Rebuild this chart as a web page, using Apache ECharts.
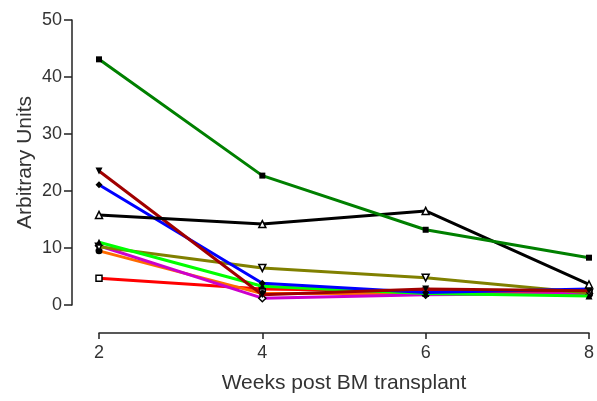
<!DOCTYPE html>
<html>
<head>
<meta charset="utf-8">
<script src="https://cdn.jsdelivr.net/npm/echarts@6/dist/echarts.min.js"></script>
<style>
  html, body { margin: 0; padding: 0; background: #fff; }
  #main { width: 597px; height: 401px; }
</style>
</head>
<body>
<div id="main"></div>
<script>
// weeks after transplant
var weeks = [2, 4, 6, 8];

// one array per animal / line
var darkGreen = [43.1, 22.7, 13.2, 8.3];
var black = [15.8, 14.2, 16.5, 3.6];
var darkRed = [23.5, 1.8, 2.8, 2.5];
var blue = [21.1, 3.8, 2.2, 2.8];
var olive = [10.2, 6.5, 4.8, 2.1];
var lime = [11.0, 3.3, 2.0, 1.6];
var magenta = [10.4, 1.2, 1.8, 2.0];
var orange = [9.5, 2.0, 2.0, 1.8];
var red = [4.7, 2.8, 2.4, 2.2];

var yTicks = [0, 10, 20, 30, 40, 50];

function pairs(vals) {
    return weeks.map(function(w, i) { return [w, vals[i]]; });
}

// 线条样式
function line(name, vals, color, symbol, open, z) {
    return {
        name: name,
        type: 'line',
        data: pairs(vals),
        symbol: symbol,
        symbolSize: symbol === 'rect' ? 6 : 7,
        z: z,
        lineStyle: { color: color, width: 3 },
        itemStyle: {
            color: open ? '#fff' : '#000',
            borderColor: '#000',
            borderWidth: open ? 1.5 : 0
        },
        animation: false
    };
}

var downTri = 'path://M0,0 L10,0 L5,9 Z';

var chart = echarts.init(document.getElementById('main'));
chart.setOption({
    backgroundColor: '#fff',
    grid: { left: 99, right: 5, top: 20, bottom: 96 },
    xAxis: {
        type: 'value',
        min: 2, max: 8, interval: 2,
        offset: 28,
        name: 'Weeks post BM transplant',
        nameLocation: 'middle',
        nameGap: 40,
        nameTextStyle: { fontFamily: 'Liberation Sans', fontSize: 21, color: '#333' },
        axisLine: { onZero: false, lineStyle: { color: '#222', width: 1.5 } },
        axisTick: { length: 6, lineStyle: { color: '#222', width: 1.5 } },
        axisLabel: { fontFamily: 'Liberation Sans', fontSize: 18, color: '#333', margin: 11 },
        splitLine: { show: false }
    },
    yAxis: {
        type: 'value',
        min: 0, max: 50, interval: 10,
        offset: 27,
        name: 'Arbitrary Units',
        nameLocation: 'middle',
        nameGap: 36,
        nameMoveOverlap: false,
        nameTextStyle: { fontFamily: 'Liberation Sans', fontSize: 21, color: '#333' },
        axisLine: { show: true, onZero: false, lineStyle: { color: '#222', width: 1.5 } },
        axisTick: { show: true, length: 8, lineStyle: { color: '#222', width: 1.5 } },
        axisLabel: {
            fontFamily: 'Liberation Sans', fontSize: 18, color: '#333', margin: 10,
            formatter: function(v) { return yTicks.indexOf(v) >= 0 ? String(v) : ''; }
        },
        splitLine: { show: false }
    },
    series: [
        line('red', red, '#ff0000', 'rect', true, 2),
        line('orange', orange, '#ff6a00', 'circle', false, 3),
        line('magenta', magenta, '#cc00cc', 'diamond', true, 3),
        line('olive', olive, '#808000', downTri, true, 4),
        line('lime', lime, '#00ff00', 'triangle', false, 5),
        line('blue', blue, '#0000ff', 'diamond', false, 6),
        line('darkRed', darkRed, '#a00000', downTri, false, 7),
        line('black', black, '#000000', 'triangle', true, 8),
        line('darkGreen', darkGreen, '#008000', 'rect', false, 9)
    ]
});
</script>
</body>
</html>
